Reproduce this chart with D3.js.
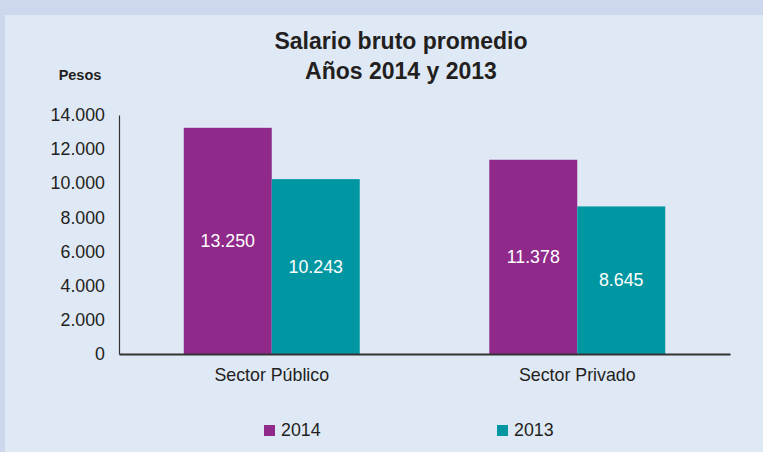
<!DOCTYPE html>
<html>
<head>
<meta charset="utf-8">
<script src="https://cdn.jsdelivr.net/npm/d3@7"></script>
<style>
  html, body { margin: 0; padding: 0; background: #cdd8ee; }
  svg { display: block; font-family: "Liberation Sans", Arial, sans-serif; }
</style>
</head>
<body>
<svg id="chart" width="763" height="452"></svg>
<script>
const categories = ["Sector Público", "Sector Privado"];
const seriesNames = ["2014", "2013"];
const values2014 = [13250, 11378];
const values2013 = [10243, 8645];
const yTicks = [0, 2000, 4000, 6000, 8000, 10000, 12000, 14000];

const WIDTH = 763;
const HEIGHT = 452;
const PLOT = { left: 119, right: 730, top: 115, bottom: 354 };
const COLORS = ["#8f2a8b", "#0097a2"];
const TEXT_COLOR = "#231f20";
const FONT_SIZE = 17.8;

const fmt = v => d3.format(",")(v).replace(/,/g, ".");

const svg = d3.select("#chart");

// panel
svg.append("rect")
    .attr("x", 5).attr("y", 15)
    .attr("width", WIDTH - 5).attr("height", HEIGHT - 15)
    .attr("fill", "#dfe8f5");

const x0 = d3.scaleBand()
    .domain(categories)
    .range([PLOT.left, PLOT.right])
    .paddingInner(0.424)
    .paddingOuter(0.212);

const x1 = d3.scaleBand()
    .domain(seriesNames)
    .range([0, x0.bandwidth()]);

const y = d3.scaleLinear()
    .domain([0, 14000])
    .range([PLOT.bottom, PLOT.top]);

const rows = categories.map((c, i) => ({
    category: c,
    values: [
        { series: "2014", value: values2014[i] },
        { series: "2013", value: values2013[i] }
    ]
}));

// title
svg.append("text")
    .attr("x", 401).attr("y", 49)
    .attr("text-anchor", "middle")
    .attr("font-size", 23).attr("font-weight", "bold")
    .attr("fill", TEXT_COLOR)
    .text("Salario bruto promedio");
svg.append("text")
    .attr("x", 401).attr("y", 79)
    .attr("text-anchor", "middle")
    .attr("font-size", 23).attr("font-weight", "bold")
    .attr("fill", TEXT_COLOR)
    .text("Años 2014 y 2013");

svg.append("text")
    .attr("x", 80).attr("y", 80)
    .attr("text-anchor", "middle")
    .attr("font-size", 14.5).attr("font-weight", "bold")
    .attr("fill", TEXT_COLOR)
    .text("Pesos");

// bars
const groups = svg.append("g")
    .selectAll("g")
    .data(rows)
    .join("g")
    .attr("transform", d => `translate(${x0(d.category)},0)`);

groups.selectAll("rect")
    .data(d => d.values)
    .join("rect")
    .attr("x", d => x1(d.series))
    .attr("y", d => y(d.value))
    .attr("width", x1.bandwidth())
    .attr("height", d => y(0) - y(d.value))
    .attr("fill", (d, i) => COLORS[i]);

groups.selectAll("text")
    .data(d => d.values)
    .join("text")
    .attr("x", d => x1(d.series) + x1.bandwidth() / 2)
    .attr("y", d => (y(d.value) + y(0)) / 2 + 6)
    .attr("text-anchor", "middle")
    .attr("font-size", FONT_SIZE)
    .attr("fill", "#ffffff")
    .text(d => fmt(d.value));

// y axis
const yAxis = svg.append("g")
    .attr("transform", `translate(${PLOT.left},0)`)
    .call(d3.axisLeft(y).tickValues(yTicks).tickSize(0).tickPadding(14).tickFormat(fmt));
yAxis.select(".domain").attr("stroke", "#333").attr("stroke-width", 1.2);
yAxis.selectAll("text")
    .attr("font-size", FONT_SIZE)
    .attr("font-family", "Liberation Sans, Arial, sans-serif")
    .attr("fill", TEXT_COLOR);

// x axis
const xAxis = svg.append("g")
    .attr("transform", `translate(0,${PLOT.bottom})`)
    .call(d3.axisBottom(x0).tickSize(0).tickPadding(14));
xAxis.select(".domain").attr("stroke", "#333").attr("stroke-width", 2);
xAxis.selectAll("text")
    .attr("font-size", FONT_SIZE)
    .attr("font-family", "Liberation Sans, Arial, sans-serif")
    .attr("fill", TEXT_COLOR);

// legend
const legendX = [264, 497];
const legend = svg.append("g")
    .selectAll("g")
    .data(seriesNames)
    .join("g")
    .attr("transform", (d, i) => `translate(${legendX[i]},425)`);
legend.append("rect")
    .attr("width", 11).attr("height", 11)
    .attr("fill", (d, i) => COLORS[i]);
legend.append("text")
    .attr("x", 17).attr("y", 11)
    .attr("font-size", FONT_SIZE)
    .attr("fill", TEXT_COLOR)
    .text(d => d);
</script>
</body>
</html>
